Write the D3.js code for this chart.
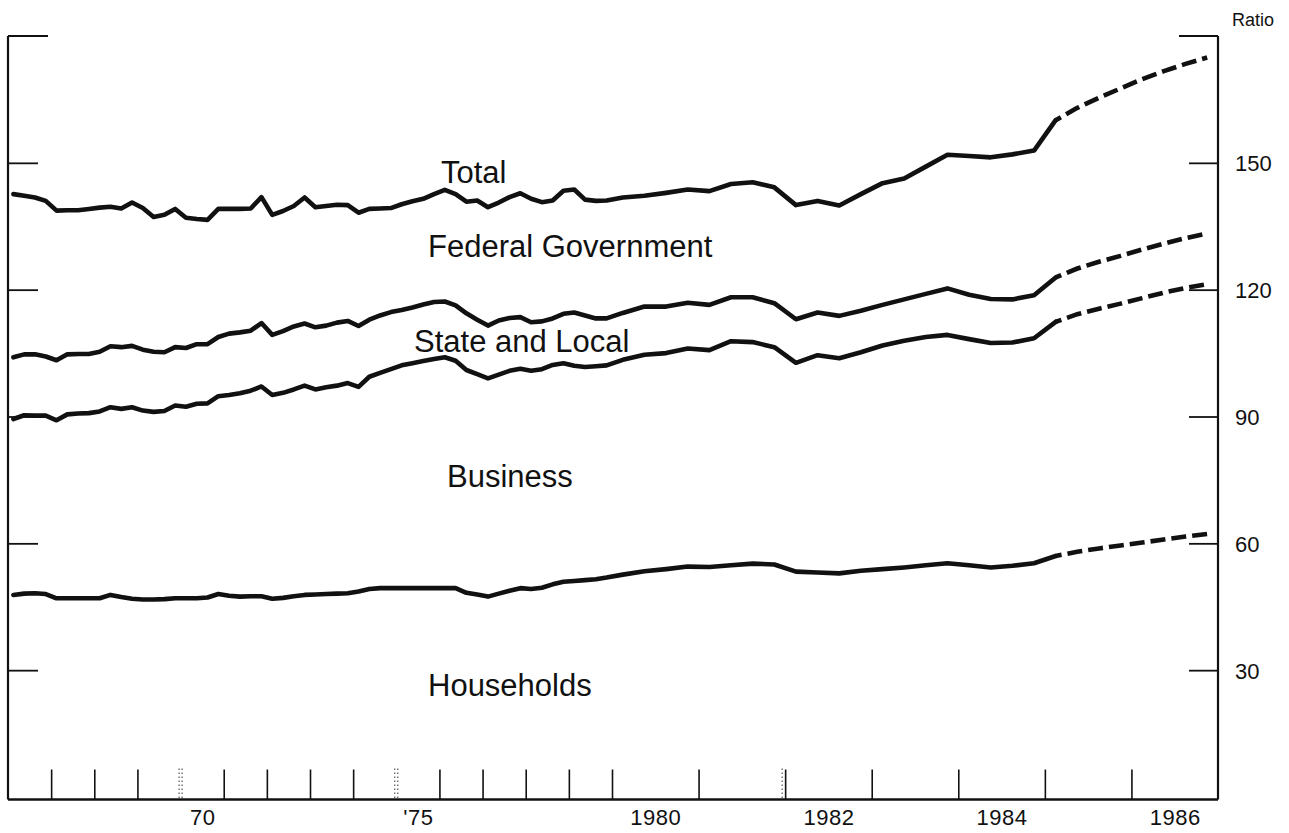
<!DOCTYPE html>
<html>
<head>
<meta charset="utf-8">
<script src="https://cdn.jsdelivr.net/npm/d3@7"></script>
<style>
  html, body { margin: 0; padding: 0; background: #fff; }
  svg { display: block; }
  text { font-family: "Liberation Sans", Arial, Helvetica, sans-serif; fill: #111; }
</style>
</head>
<body>
<svg id="chart" width="1289" height="833"></svg>
<script>
// ---- Data (quarterly, 1966Q1 .. 1985Q1 actual; 1985Q1 .. 1986Q4 projected) ----
const startYear = 1966;

const total = [
  142.6, 142.2, 141.8, 141.0,
  138.7, 138.8, 138.8, 139.1,
  139.4, 139.6, 139.2, 140.6,
  139.3, 137.2, 137.7, 139.1,
  137.0, 136.7, 136.5, 139.1,
  139.1, 139.1, 139.2, 141.9,
  137.7, 138.6, 139.8, 141.8,
  139.5, 139.8, 140.1, 140.0,
  138.2, 139.1, 139.2, 139.3,
  140.2, 140.9, 141.5, 142.6,
  143.6, 142.6, 140.8, 141.1,
  139.5, 140.6, 141.9, 142.8,
  141.5, 140.7, 141.1, 143.4,
  143.7, 141.3, 141.0, 141.1,
  141.8, 142.2, 142.9, 143.7,
  143.3, 145.0, 145.4, 144.2,
  140.0, 141.0, 139.9, 142.6,
  145.2, 146.3, 149.1, 151.9,
  151.6, 151.3, 152.0, 152.9,
  160.1
];
const federal = [
  104.0, 104.7, 104.7, 104.2,
  103.3, 104.7, 104.8, 104.8,
  105.3, 106.6, 106.4, 106.7,
  105.8, 105.3, 105.2, 106.4,
  106.2, 107.1, 107.1, 108.8,
  109.6, 109.9, 110.3, 112.1,
  109.3, 110.2, 111.3, 112.0,
  111.1, 111.5, 112.2, 112.6,
  111.4, 112.9, 113.9, 114.7,
  115.2, 115.8, 116.5, 117.1,
  117.2, 116.3, 114.4, 112.9,
  111.5, 112.7, 113.3, 113.5,
  112.3, 112.5, 113.2, 114.3,
  114.6, 113.9, 113.2, 113.2,
  114.5, 116.0, 116.0, 116.9,
  116.4, 118.2, 118.2, 116.8,
  113.0, 114.6, 113.8, 115.0,
  116.4, 117.7, 119.0, 120.3,
  118.8, 117.8, 117.7, 118.7,
  122.9
];
const stateLocal = [
  89.4, 90.3, 90.2, 90.2,
  89.1, 90.5, 90.7, 90.8,
  91.2, 92.2, 91.8, 92.2,
  91.4, 91.1, 91.3, 92.6,
  92.3, 93.0, 93.1, 94.8,
  95.1, 95.5, 96.1, 97.1,
  95.1, 95.6, 96.4, 97.3,
  96.4, 96.9, 97.3, 97.9,
  97.0, 99.4, 100.3, 101.2,
  102.1, 102.6, 103.1, 103.6,
  104.0, 103.2, 101.0, 100.0,
  99.0, 99.9, 100.8, 101.3,
  100.8, 101.2, 102.2, 102.6,
  102.0, 101.7, 101.9, 102.1,
  103.4, 104.6, 105.0, 106.1,
  105.7, 107.8, 107.6, 106.4,
  102.7, 104.5, 103.8, 105.2,
  106.8, 107.9, 108.8, 109.3,
  108.3, 107.4, 107.5, 108.5,
  112.4
];
const households = [
  47.8, 48.1, 48.2, 48.0,
  47.0, 47.0, 47.0, 47.0,
  47.0, 47.8, 47.3, 46.9,
  46.7, 46.7, 46.8, 47.0,
  47.0, 47.0, 47.2, 48.0,
  47.6, 47.4, 47.5, 47.5,
  46.9, 47.1, 47.5, 47.8,
  47.9, 48.0, 48.1, 48.2,
  48.6, 49.2, 49.4, 49.4,
  49.4, 49.4, 49.4, 49.4,
  49.4, 49.4, 48.3, 47.9,
  47.4, 48.1, 48.8, 49.4,
  49.2, 49.5, 50.3, 50.9,
  51.1, 51.3, 51.5, 51.9,
  52.6, 53.4, 53.9, 54.5,
  54.4, 54.8, 55.2, 55.0,
  53.3, 53.1, 52.9, 53.5,
  53.9, 54.3, 54.8, 55.3,
  54.8, 54.3, 54.7, 55.3,
  57.0
];
// projections, 1985Q1 .. 1986Q4
const projStartIndex = 76;
const totalProj      = [160.1, 163.0, 165.4, 167.6, 169.8, 171.7, 173.4, 174.9];
const federalProj    = [122.9, 125.0, 126.6, 128.0, 129.5, 130.9, 132.2, 133.3];
const stateLocalProj = [112.4, 114.2, 115.5, 116.7, 118.0, 119.3, 120.4, 121.3];
const householdsProj = [57.0, 58.0, 58.8, 59.5, 60.2, 60.9, 61.6, 62.2];

// axis
const yTicks = [30, 60, 90, 120, 150];
const yTop = 180;
const yearBoundaries = [1967,1968,1969,1970,1971,1972,1973,1974,1975,1976,1977,1978,1979,1980,1981,1982,1983,1984,1985,1986];
const dottedBoundaries = [1970, 1975];
const recessionMarks = [1982];
const xLabelYears = [1970, 1975, 1980, 1982, 1984, 1986];
const xLabels = ["70", "'75", "1980", "1982", "1984", "1986"];

const seriesLabels = [
  { text: "Total", x: 441, y: 183 },
  { text: "Federal Government", x: 428, y: 257 },
  { text: "State and Local", x: 414, y: 352 },
  { text: "Business", x: 447, y: 487 },
  { text: "Households", x: 428, y: 696 }
];

// ---- Scales ----
const svg = d3.select("#chart");
const x = d3.scaleLinear().domain([1966, 1980, 1987]).range([8, 612, 1218]);
const y = d3.scaleLinear().domain([0, yTop]).range([797, 36]);
const axisY = 799.5;
const qTime = i => startYear + (i + 0.5) / 4;
const x0 = x(1966), x1 = x(1987);

const line = d3.line().x(d => x(d.t)).y(d => y(d.v)).curve(d3.curveLinear);

function drawSeries(vals, proj) {
  const pts = vals.map((v, i) => ({ t: qTime(i), v }));
  svg.append("path").datum(pts).attr("d", line)
    .attr("fill", "none").attr("stroke", "#111").attr("stroke-width", 4.6)
    .attr("stroke-linejoin", "round").attr("stroke-linecap", "round");
  const ppts = proj.map((v, i) => ({ t: qTime(projStartIndex + i), v }));
  svg.append("path").datum(ppts).attr("d", line)
    .attr("fill", "none").attr("stroke", "#111").attr("stroke-width", 4.6)
    .attr("stroke-dasharray", "15,6").attr("stroke-dashoffset", 9);
}
drawSeries(total, totalProj);
drawSeries(federal, federalProj);
drawSeries(stateLocal, stateLocalProj);
drawSeries(households, householdsProj);

// ---- Frame / axes ----
// left axis
const leftAxis = d3.axisRight(y).tickValues(yTicks).tickSize(30).tickSizeOuter(0).tickFormat("");
const gl = svg.append("g").attr("transform", `translate(${x0},0)`).call(leftAxis);
gl.select(".domain").remove();
gl.selectAll(".tick line").attr("stroke", "#111").attr("stroke-width", 1.8);
// right axis
const rightAxis = d3.axisRight(y).tickValues(yTicks).tickSize(-29).tickPadding(17).tickSizeOuter(0);
const gr = svg.append("g").attr("transform", `translate(${x1},0)`).call(rightAxis);
gr.select(".domain").remove();
gr.selectAll(".tick line").attr("stroke", "#111").attr("stroke-width", 1.8);
gr.selectAll(".tick text").attr("font-size", 22).attr("fill", "#111")
  .attr("font-family", '"Liberation Sans", Arial, sans-serif').attr("dy", "0.36em");

// vertical frame lines
svg.append("line").attr("x1", x0).attr("x2", x0).attr("y1", y(yTop)).attr("y2", axisY)
  .attr("stroke", "#111").attr("stroke-width", 2.2);
svg.append("line").attr("x1", x1).attr("x2", x1).attr("y1", y(yTop)).attr("y2", axisY)
  .attr("stroke", "#111").attr("stroke-width", 2.2);
// top ticks
svg.append("line").attr("x1", x0).attr("x2", x0 + 40).attr("y1", y(yTop)).attr("y2", y(yTop))
  .attr("stroke", "#111").attr("stroke-width", 2);
svg.append("line").attr("x1", x1 - 39).attr("x2", x1).attr("y1", y(yTop)).attr("y2", y(yTop))
  .attr("stroke", "#111").attr("stroke-width", 2);
svg.append("text").attr("x", x1 + 14).attr("y", 26).attr("font-size", 18).text("Ratio");

// bottom axis
const bottomAxis = d3.axisBottom(x)
  .tickValues(yearBoundaries.filter(v => !dottedBoundaries.includes(v)))
  .tickSize(-30).tickSizeOuter(0).tickFormat("");
const gb = svg.append("g").attr("transform", `translate(0,${axisY})`).call(bottomAxis);
gb.select(".domain").remove();
gb.selectAll(".tick line").attr("stroke", "#111").attr("stroke-width", 1.6);
svg.append("line").attr("x1", x0).attr("x2", x1).attr("y1", axisY).attr("y2", axisY)
  .attr("stroke", "#111").attr("stroke-width", 2.4);
// dotted boundary ticks
dottedBoundaries.forEach(b => {
  [-1.5, 1.5].forEach(off => {
    svg.append("line").attr("x1", x(b) + off).attr("x2", x(b) + off)
      .attr("y1", axisY - 31).attr("y2", axisY)
      .attr("stroke", "#333").attr("stroke-width", 1).attr("stroke-dasharray", "1.5,2.5");
  });
});
recessionMarks.forEach(b => {
  svg.append("line").attr("x1", x(b) - 3).attr("x2", x(b) - 3)
    .attr("y1", axisY - 31).attr("y2", axisY)
    .attr("stroke", "#333").attr("stroke-width", 1).attr("stroke-dasharray", "1.5,2.5");
});

// bottom labels, centered in the year span
const labelAxis = d3.axisBottom(x)
  .tickValues(xLabelYears.map(v => v + 0.5))
  .tickSize(0).tickPadding(10)
  .tickFormat((d, i) => xLabels[i]);
const gx = svg.append("g").attr("transform", `translate(0,${axisY})`).call(labelAxis);
gx.select(".domain").remove();
gx.selectAll(".tick text").attr("font-size", 22).attr("fill", "#111")
  .attr("font-family", '"Liberation Sans", Arial, sans-serif').attr("letter-spacing", "0.5px");

// series labels
svg.selectAll("text.series").data(seriesLabels).enter().append("text")
  .attr("class", "series").attr("x", d => d.x).attr("y", d => d.y)
  .attr("font-size", 31).text(d => d.text);
</script>
</body>
</html>
